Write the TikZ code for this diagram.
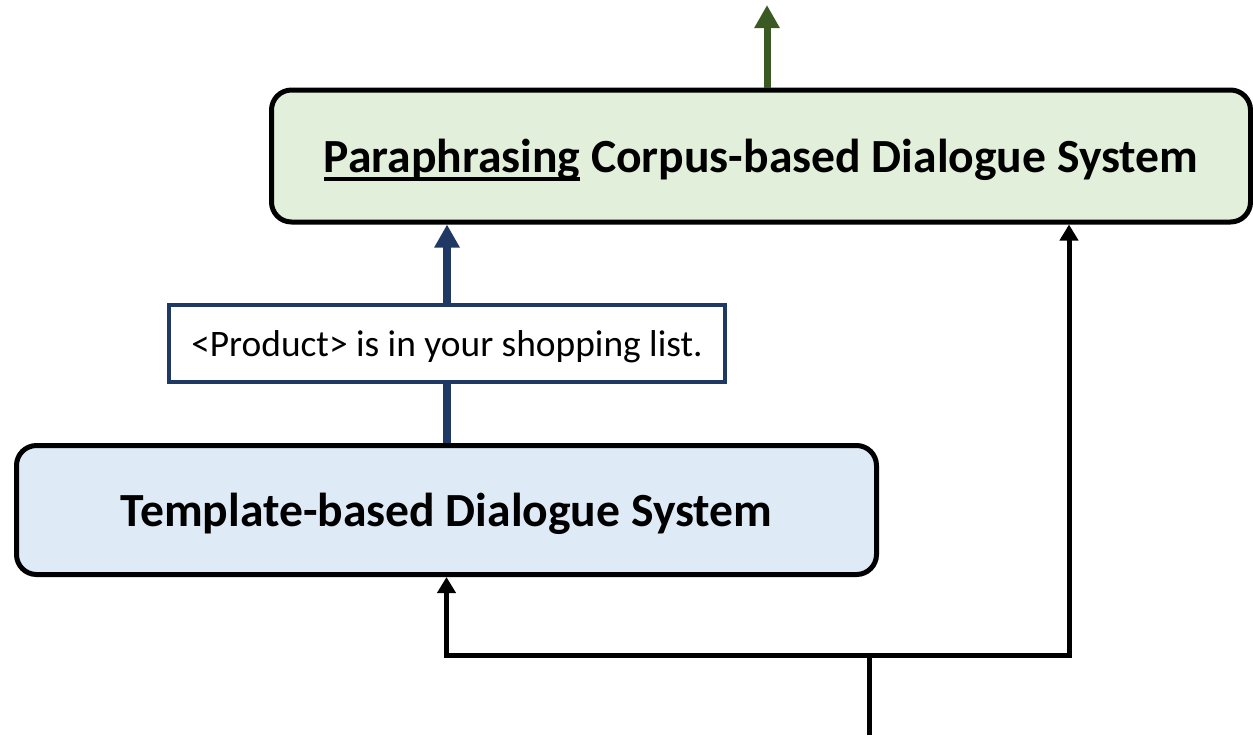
\documentclass[tikz,border=0pt]{standalone}
\usepackage{fontspec}
\setmainfont{Carlito}
\usetikzlibrary{arrows.meta,positioning}
\definecolor{paragreen}{HTML}{E2EFDA}
\definecolor{tmplblue}{HTML}{DEEBF7}
\definecolor{darkgreen}{HTML}{3B5A23}
\definecolor{navy}{HTML}{203864}
\newlength\ulwd
\newcommand\thickul[1]{\settowidth\ulwd{#1}\rlap{\rule[-4pt]{\ulwd}{1.8pt}}#1}
\begin{document}
\begin{tikzpicture}
  [
  x=0.5pt, y=-0.5pt,
  sysnode/.style={rectangle, rounded corners=10pt, draw=black, line width=2.5pt,
    font=\fontsize{23.8}{27}\selectfont\bfseries, inner sep=0pt, text depth=0pt},
  tagnode/.style={rectangle, draw=navy, line width=2pt, fill=white,
    font=\fontsize{18.7}{22}\selectfont, inner sep=0pt, text depth=0pt,
    minimum width=278pt, minimum height=38.5pt},
  flow/.style={line width=2.5pt, -{Triangle[width=9pt,length=8pt]}},
  ]
  \useasboundingbox (0,0) rectangle (1253,735);

  \node[sysnode, fill=paragreen, minimum width=489.5pt, minimum height=66pt]
    (para) at (761,156) {\thickul{Paraphrasing} Corpus-based Dialogue System};
  \node[sysnode, fill=tmplblue, minimum width=430pt, minimum height=64.5pt]
    (tmpl) at (446.5,510) {Template-based Dialogue System};
  \node[tagnode] (tag) at (447,343.5) {<Product> is in your shopping list.};

  % output of the paraphraser
  \coordinate (out) at (767,5);
  \draw[darkgreen, line width=3.5pt, -{Triangle[width=12pt,length=11.5pt]}]
    (para.north -| out) -- (out);

  % template sentence goes up
  \draw[navy, line width=3.8pt] (tmpl.north -| tag) -- (tag.south);
  \draw[navy, line width=3.8pt, -{Triangle[width=12pt,length=11.5pt]}]
    (tag.north) -- (para.south -| tag);

  % input split
  \coordinate (in) at (869,735);
  \coordinate (split) at (869,655);
  \coordinate (right) at (1069,655);
  \draw[line width=2.5pt] (in) -- (split);
  \draw[flow] (split) -| (tmpl.south);
  \draw[flow] (split) -- (right) -- (right |- para.south);

\end{tikzpicture}
\end{document}
